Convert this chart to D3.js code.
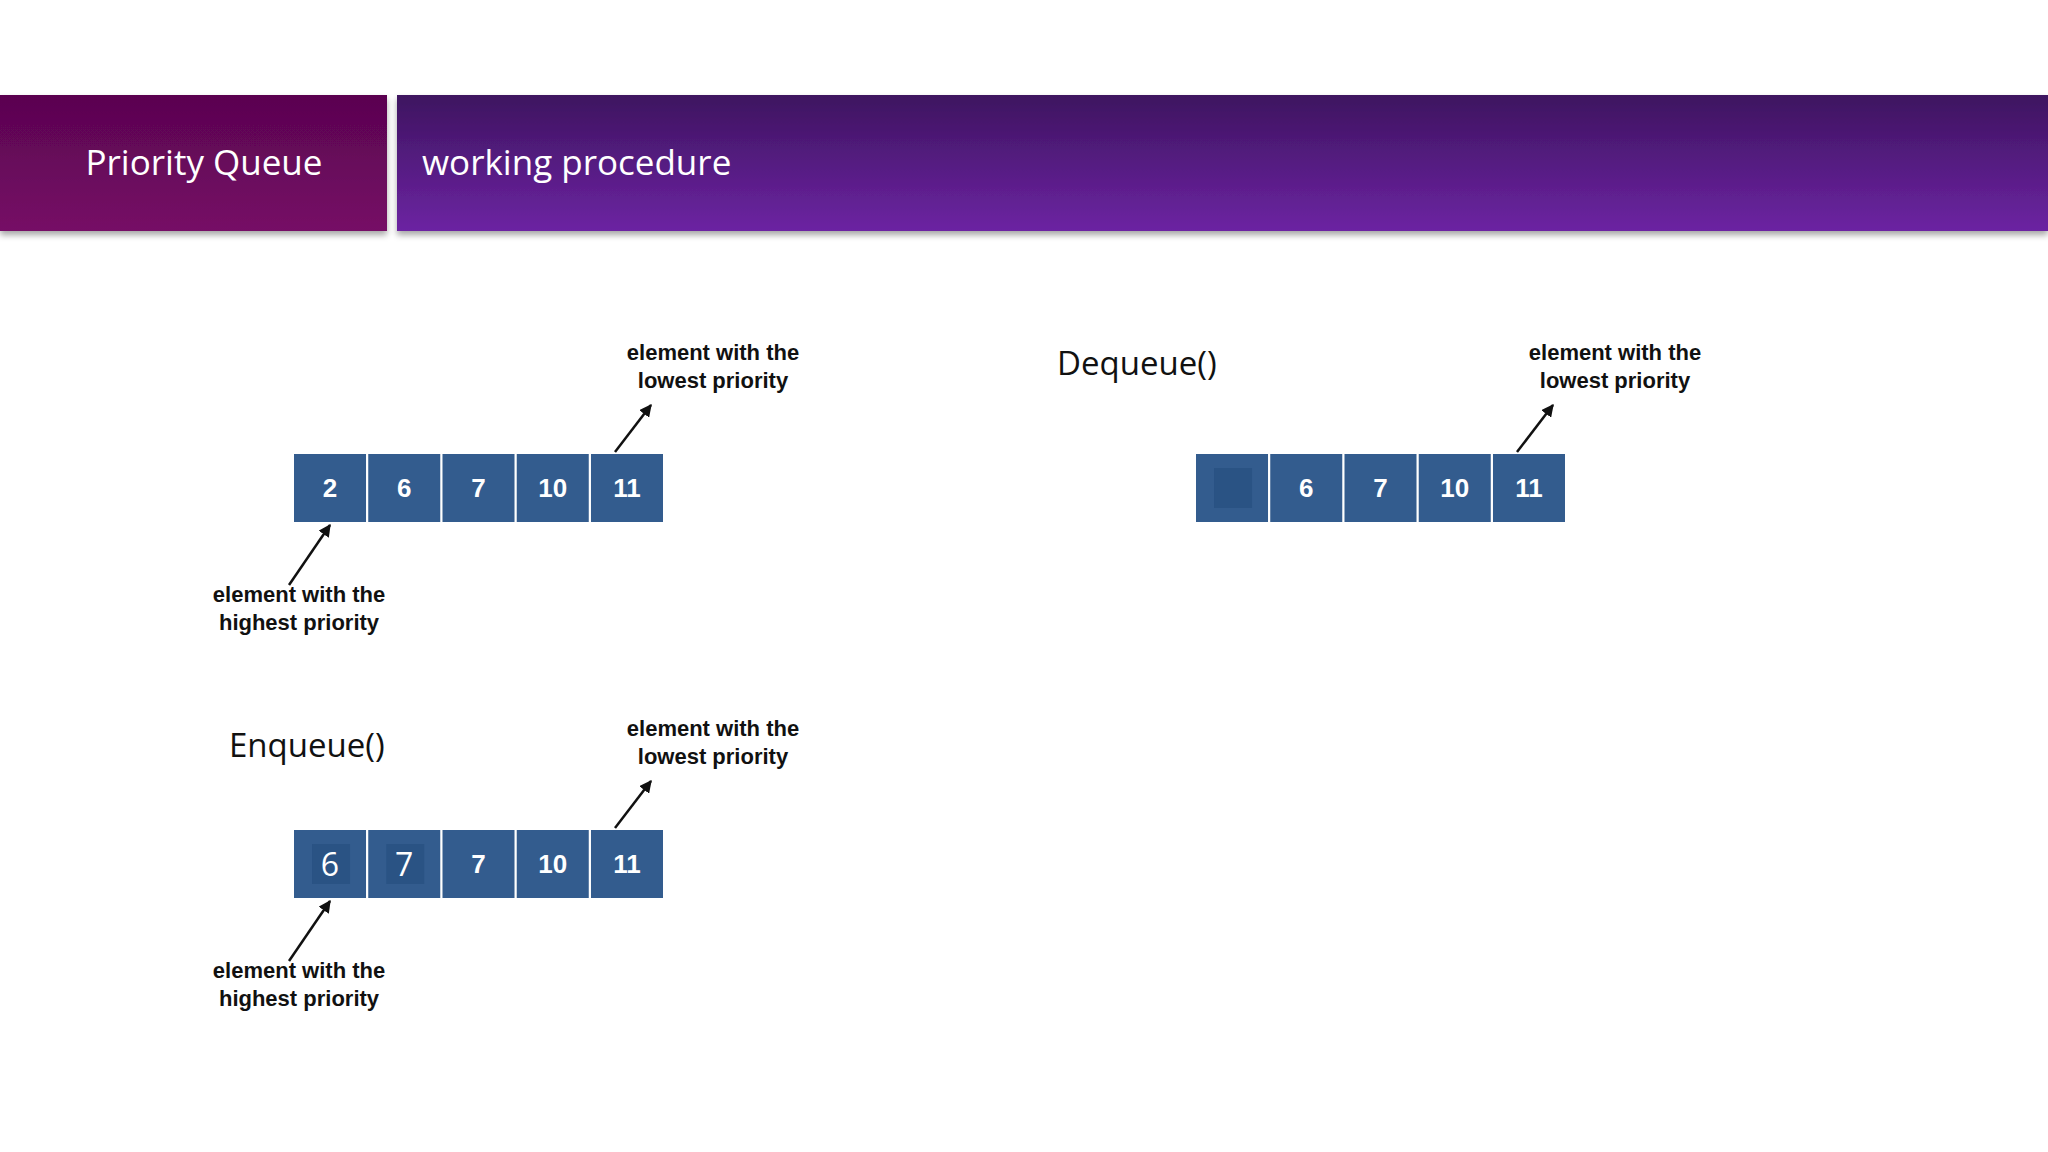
<!DOCTYPE html>
<html><head><meta charset="utf-8">
<script src="https://cdn.jsdelivr.net/npm/d3@7"></script>
<style>body{margin:0;background:#fff}</style>
</head><body>
<svg id="c" width="2048" height="1152"></svg>
<script>
// values
const queueInitial = ["2", "6", "7", "10", "11"];
const queueDequeue = ["", "6", "7", "10", "11"];
const queueEnqueue = ["6", "7", "7", "10", "11"];
const highlightDequeue = [true, false, false, false, false];
const highlightEnqueue = [true, true, false, false, false];
const titleLeft = "Priority Queue";
const titleRight = "working procedure";
const lowLabel = ["element with the", "lowest priority"];
const highLabel = ["element with the", "highest priority"];

const W = 2048, H = 1152;
const svg = d3.select("#c");
const defs = svg.append("defs");

const g1 = defs.append("linearGradient").attr("id", "gl").attr("x1", 0).attr("y1", 0).attr("x2", 0).attr("y2", 1);
g1.append("stop").attr("offset", 0).attr("stop-color", "#5a0550");
g1.append("stop").attr("offset", 1).attr("stop-color", "#760a66");
const g2 = defs.append("linearGradient").attr("id", "gr").attr("x1", 0).attr("y1", 0).attr("x2", 0).attr("y2", 1);
g2.append("stop").attr("offset", 0).attr("stop-color", "#3e1460");
g2.append("stop").attr("offset", 1).attr("stop-color", "#6c24a2");
const sh = defs.append("filter").attr("id", "sh").attr("x", -0.05).attr("y", -0.1).attr("width", 1.1).attr("height", 1.3);
sh.append("feDropShadow").attr("dx", 0).attr("dy", 4).attr("stdDeviation", 3).attr("flood-opacity", 0.35);
defs.append("marker").attr("id", "arrow").attr("viewBox", "0 0 10 10")
  .attr("refX", 9).attr("refY", 5).attr("markerWidth", 5).attr("markerHeight", 5)
  .attr("orient", "auto").append("path").attr("d", "M0 0 L10 5 L0 10 z").attr("fill", "#111");

// header
svg.append("rect").attr("x", 0).attr("y", 95).attr("width", 387).attr("height", 136)
  .attr("fill", "url(#gl)").attr("filter", "url(#sh)");
svg.append("rect").attr("x", 397).attr("y", 95).attr("width", W - 397).attr("height", 136)
  .attr("fill", "url(#gr)").attr("filter", "url(#sh)");
svg.append("text").attr("x", 204).attr("y", 175).attr("text-anchor", "middle")
  .attr("font-family", "Open Sans, Noto Sans, sans-serif").attr("font-size", 35).attr("fill", "#fff").text(titleLeft);
svg.append("text").attr("x", 422).attr("y", 175)
  .attr("font-family", "Open Sans, Noto Sans, sans-serif").attr("font-size", 35).attr("fill", "#fff").text(titleRight);

function label(x, y, lines) {
  const t = svg.append("text").attr("text-anchor", "middle")
    .attr("font-family", "Liberation Sans, Arial, sans-serif").attr("font-weight", "bold")
    .attr("font-size", 22).attr("fill", "#111");
  lines.forEach((l, i) => t.append("tspan").attr("x", x).attr("y", y + i * 28).text(l));
}
function arrow(x1, y1, x2, y2) {
  svg.append("line").attr("x1", x1).attr("y1", y1).attr("x2", x2).attr("y2", y2)
    .attr("stroke", "#111").attr("stroke-width", 2.5).attr("marker-end", "url(#arrow)");
}

function queue(vals, x0, x1, y, hl, withHigh) {
  const x = d3.scaleBand().domain(d3.range(vals.length)).range([x0, x1]).paddingInner(0.03);
  const h = 68;
  const g = svg.append("g");
  g.selectAll("rect.cell").data(vals).join("rect").attr("class", "cell")
    .attr("x", (d, i) => x(i)).attr("y", y).attr("width", x.bandwidth()).attr("height", h)
    .attr("fill", "#335c8e");
  g.selectAll("rect.hl").data(vals.map((d, i) => ({ d, i })).filter(o => hl && hl[o.i])).join("rect")
    .attr("class", "hl")
    .attr("x", o => x(o.i) + x.bandwidth() / 2 - 18).attr("y", y + 14)
    .attr("width", 38).attr("height", 40).attr("fill", "#2a5384");
  g.selectAll("text").data(vals).join("text")
    .attr("x", (d, i) => x(i) + x.bandwidth() / 2).attr("y", y + h / 2 + 9)
    .attr("text-anchor", "middle").attr("fill", "#fff")
    .attr("font-family", (d, i) => hl && hl[i] ? "Open Sans, sans-serif" : "Liberation Sans, Arial, sans-serif")
    .attr("font-weight", (d, i) => hl && hl[i] ? "normal" : "bold")
    .attr("font-size", (d, i) => hl && hl[i] ? 32 : 26)
    .attr("dy", (d, i) => hl && hl[i] ? 3 : 0)
    .text(d => d);
  // low priority arrow from last cell
  const lx = x(vals.length - 1) + x.bandwidth() / 2;
  arrow(lx - 12, y - 2, lx + 24, y - 49);
  label(lx + 86, y - 94, lowLabel);
  if (withHigh) {
    const hx = x(0) + x.bandwidth() / 2;
    arrow(hx - 41, y + 131, hx, y + 71);
    label(hx - 31, y + 148, highLabel);
  }
}

queue(queueInitial, 294, 663, 454, null, true);
queue(queueDequeue, 1196, 1565, 454, highlightDequeue, false);
queue(queueEnqueue, 294, 663, 830, highlightEnqueue, true);

svg.append("text").attr("x", 1057).attr("y", 375)
  .attr("font-family", "Open Sans, Noto Sans, sans-serif").attr("font-size", 33).attr("fill", "#111").text("Dequeue()");
svg.append("text").attr("x", 229).attr("y", 757)
  .attr("font-family", "Open Sans, Noto Sans, sans-serif").attr("font-size", 33).attr("fill", "#111").text("Enqueue()");
</script>
</body></html>
